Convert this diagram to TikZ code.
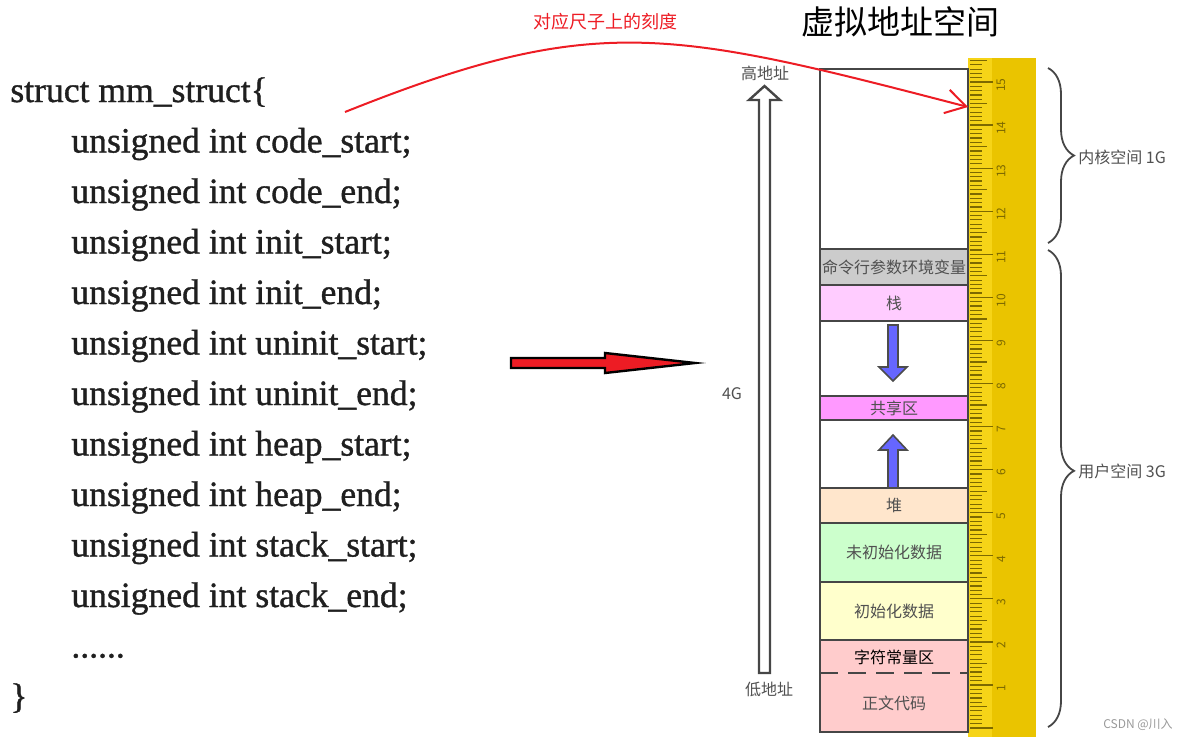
\documentclass[tikz,border=0pt]{standalone}
\usepackage{fontspec}
\setmainfont{Liberation Serif}
\newfontfamily\codefont{Liberation Serif}[FakeBold=1]
\newfontfamily\cjk{Noto Sans CJK SC}
\usetikzlibrary{arrows.meta,decorations.pathreplacing}

\definecolor{rulerbody}{RGB}{234,196,0}
\definecolor{rulerlight}{RGB}{246,212,24}
\definecolor{rulertick}{RGB}{125,105,0}
\definecolor{boxline}{RGB}{70,70,70}
\definecolor{labelgray}{RGB}{80,80,80}
\definecolor{markred}{RGB}{237,28,36}
\definecolor{growblue}{RGB}{102,102,255}
\definecolor{argsgray}{RGB}{204,204,204}
\definecolor{stackpink}{RGB}{255,204,255}
\definecolor{sharedpink}{RGB}{255,153,255}
\definecolor{heappeach}{RGB}{255,230,204}
\definecolor{bssgreen}{RGB}{204,255,204}
\definecolor{datayellow}{RGB}{255,255,204}
\definecolor{textred}{RGB}{255,204,204}

\tikzset{
  codeline/.style={anchor=base west, inner sep=0pt, text=black!88, font=\codefont\fontsize{17.8}{20}\selectfont},
  segbox/.style={draw=boxline, line width=1pt},
  seglabel/.style={inner sep=0pt, text=labelgray, font=\cjk\fontsize{8}{10}\selectfont},
  rulenum/.style={inner sep=0pt, text=rulertick, font=\cjk\fontsize{6}{7}\selectfont}
}
\def\memseg#1#2#3#4#5{\draw[segbox, fill=#3] (820,#1) rectangle (968,#2); \node[seglabel] (#4) at (894,{(#1+#2)/2}) {#5};}

\begin{document}
\begin{tikzpicture}[x=0.5pt,y=-0.5pt]
		%%%%% START %%%%%
		\useasboundingbox (0,0) rectangle (1188,741);
		
		\node[codeline] (l0) at (10,102) {struct mm\_struct\{};
		\foreach \fld [count=\i] in {code\_start, code\_end, init\_start, init\_end, uninit\_start, uninit\_end, heap\_start, heap\_end, stack\_start, stack\_end}
			\node[codeline] (l\i) at (71,{102+50.5*\i}) {unsigned int \fld;};
		\node[codeline] (l11) at (71,{102+50.5*11}) {......};
		\node[codeline] (l12) at (10,{102+50.5*12}) {\}};
		
		\draw[line width=1.2pt, fill=markred] (511,358) -- (605,358) -- (605,353) -- (695,363) -- (605,373) -- (605,368) -- (511,368) -- cycle;
		
		\node[font=\cjk\fontsize{16.5}{20}\selectfont] (title) at (900,22) {虚拟地址空间};
		
		%%%%% ruler %%%%%
		\fill[rulerbody] (968,58) rectangle (1036,737);
		\fill[rulerlight] (968,58) rectangle (992,737);
		\foreach \k in {0,...,155} {
			\pgfmathsetmacro\ty{728.07-4.307*\k}
			\pgfmathsetmacro\tl{mod(\k,10)==0 ? 23 : (mod(\k,5)==0 ? 17 : 12)}
			\draw[rulertick, line width=0.6pt] (970,\ty) -- ++(\tl,0);
		}
		\foreach \n in {1,...,15}
			\node[rulenum, rotate=90] (r\n) at (1001,{685-43.07*(\n-1)+3}) {\n};
		
		%%%%% memory %%%%%
		\draw[segbox, fill=white] (820,69) rectangle (968,249);
		\memseg{249}{285}{argsgray}{args}{命令行参数环境变量}
		\memseg{285}{321}{stackpink}{stack}{栈}
		\draw[segbox, fill=white] (820,321) rectangle (968,396);
		\memseg{396}{420}{sharedpink}{shared}{共享区}
		\draw[segbox, fill=white] (820,420) rectangle (968,488);
		\memseg{488}{523}{heappeach}{heap}{堆}
		\memseg{523}{582}{bssgreen}{bss}{未初始化数据}
		\memseg{582}{640}{datayellow}{data}{初始化数据}
		\draw[segbox, fill=textred] (820,640) rectangle (968,732);
		\draw[boxline, line width=1pt, dash pattern=on 9pt off 5pt] (820,673) -- (968,673);
		\node[seglabel, text=black] (rodata) at (894,657) {字符常量区};
		\node[seglabel] (text) at (894,703) {正文代码};
		
		\draw[line width=0.8pt, draw=black!70, fill=growblue] (888,325) -- (898,325) -- (898,367) -- (907,367) -- (893,381) -- (879,367) -- (888,367) -- cycle;
		\draw[line width=0.8pt, draw=black!70, fill=growblue] (888,488) -- (898,488) -- (898,450) -- (907,450) -- (893,435) -- (879,450) -- (888,450) -- cycle;
		
		\draw[line width=1.2pt, draw=boxline, fill=white] (759,673) -- (770,673) -- (770,100) -- (780,100) -- (764.5,86) -- (749,100) -- (759,100) -- cycle;
		\node[seglabel] (high) at (765,73) {高地址};
		\node[seglabel] (low) at (769,689) {低地址};
		\node[seglabel] (total) at (732,394) {4G};
		
		\draw[boxline, line width=0.9pt, decorate, decoration={brace, amplitude=13pt}] (1048,68) -- (1048,243);
		\node[seglabel, anchor=west] (kernel) at (1078,157) {内核空间 1G};
		\draw[boxline, line width=0.9pt, decorate, decoration={brace, amplitude=13pt, aspect=0.463}] (1048,250) -- (1048,727);
		\node[seglabel, anchor=west] (user) at (1078,471) {用户空间 3G};
		
		\node[font=\cjk\fontsize{6}{7}\selectfont, text=black!40] (wm) at (1138,725) {CSDN @川入};
		
		%%%%% pointer %%%%%
		\coordinate (src) at (345,112);
		\coordinate (tick14) at (968,107);
		\draw[markred, line width=1pt, -{Straight Barb[length=10pt,width=12pt]}] (src) .. controls (595,12) and (668,29) .. (tick14);
		\node[font=\cjk\fontsize{9}{11}\selectfont, text=markred] (note) at (605,22) {对应尺子上的刻度};
		
		%%%%% END %%%%%
\end{tikzpicture}
\end{document}
